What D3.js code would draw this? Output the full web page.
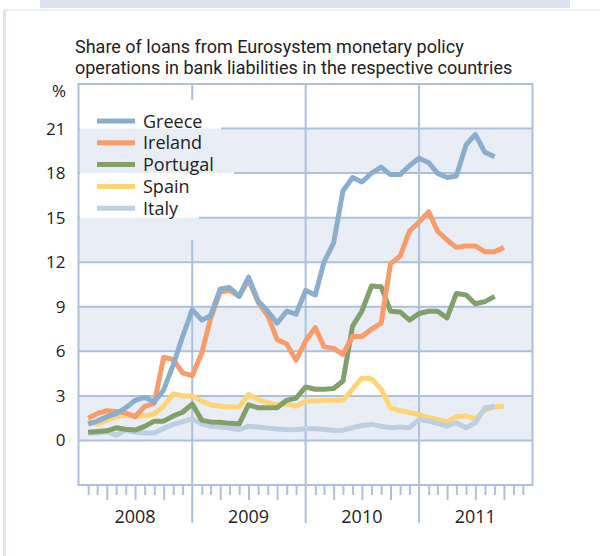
<!DOCTYPE html>
<html><head><meta charset="utf-8">
<script src="https://cdn.jsdelivr.net/npm/d3@7"></script>
<style>body{margin:0;background:#fff}svg{display:block}text{font-family:"Open Sans",sans-serif;fill:#222}</style>
</head><body>
<svg id="c" width="600" height="556"></svg>
<script>
const titleLines = ["Share of loans from Eurosystem monetary policy","operations in bank liabilities in the respective countries"];
const unitLabel = "%";
const yTicks = [0,3,6,9,12,15,18,21];
const years = [2008,2009,2010,2011];
const seriesNames = ["Greece","Ireland","Portugal","Spain","Italy"];
const seriesColors = ["#8aaecd","#f99c6b","#82a06a","#fdd578","#bccfe3"];
// monthly values, first value = January 2008
const greece = [1.1,1.3,1.6,1.8,2.2,2.7,2.9,2.6,3.4,5.1,7.0,8.8,
  8.1,8.4,10.2,10.3,9.7,11.0,9.4,8.7,7.9,8.7,8.5,10.1,
  9.8,12.0,13.3,16.8,17.7,17.4,18.0,18.4,17.9,17.9,18.5,19.0,
  18.7,18.0,17.7,17.8,19.9,20.6,19.4,19.1];
const ireland = [1.5,1.8,2.0,1.95,1.85,1.6,2.3,2.5,5.6,5.45,4.55,4.35,
  5.9,8.2,10.0,10.1,9.7,10.8,9.3,8.4,6.8,6.5,5.4,6.7,
  7.6,6.3,6.2,5.8,7.0,7.0,7.5,7.9,11.9,12.4,14.1,14.7,
  15.4,14.1,13.5,13.0,13.1,13.1,12.7,12.7,13.0];
const portugal = [0.55,0.6,0.65,0.85,0.75,0.7,0.95,1.3,1.3,1.65,1.9,2.45,
  1.35,1.25,1.22,1.15,1.1,2.4,2.2,2.2,2.2,2.7,2.85,3.6,
  3.45,3.45,3.5,4.0,7.7,8.7,10.4,10.35,8.7,8.65,8.1,8.55,
  8.7,8.7,8.25,9.9,9.8,9.2,9.35,9.7];
const spain = [1.3,1.1,1.35,1.6,1.7,1.65,1.65,1.8,2.3,3.15,3.0,3.0,
  2.65,2.4,2.3,2.25,2.25,3.1,2.75,2.55,2.4,2.45,2.3,2.65,
  2.65,2.7,2.7,2.7,3.45,4.2,4.15,3.45,2.2,2.0,1.87,1.72,
  1.55,1.42,1.25,1.6,1.65,1.45,2.05,2.25,2.3];
const italy = [0.5,0.5,0.6,0.35,0.7,0.55,0.5,0.5,0.8,1.08,1.25,1.45,
  1.1,0.95,0.9,0.83,0.72,0.96,0.9,0.83,0.77,0.72,0.72,0.79,
  0.79,0.74,0.67,0.69,0.86,1.01,1.08,0.96,0.86,0.9,0.86,1.4,
  1.3,1.15,0.96,1.19,0.86,1.19,2.2,2.3];
const seriesValues = [greece,ireland,portugal,spain,italy];

const svg = d3.select("#c");
const L=78.5, R=532.5, T=84, B=485;
const x = d3.scaleTime().domain([new Date(2008,0,1),new Date(2012,0,1)]).range([L,R]);
const y = d3.scaleLinear().domain([-3,24]).range([B,T]);
const grid = "#adc0dd", band = "#e9eef6";

// page decoration
svg.append("rect").attr("x",40).attr("y",0).attr("width",530).attr("height",8).attr("fill","#dce3ee");
svg.append("line").attr("x1",4).attr("x2",600).attr("y1",10).attr("y2",10).attr("stroke","#e6ebf3").attr("stroke-width",1.5);
svg.append("line").attr("x1",4.5).attr("x2",4.5).attr("y1",10).attr("y2",556).attr("stroke","#dde4ef").attr("stroke-width",3);

// title (two separate lines)
titleLines.forEach((t,i)=>{
  svg.append("text").attr("x",75).attr("y",52.5+21.3*i).style("font-family","Roboto,sans-serif").style("font-size","18px").text(t);
});
svg.append("text").attr("x",66).attr("y",97).attr("text-anchor","end").style("font-size","17px").text(unitLabel);

// bands
[0,6,12,18].forEach(v=>{
  svg.append("rect").attr("x",L).attr("width",R-L).attr("y",y(v+3)).attr("height",y(v)-y(v+3)).attr("fill",band);
});

// mask for legend area
const defs = svg.append("defs");
const mask = defs.append("mask").attr("id","lm").attr("maskUnits","userSpaceOnUse");
mask.append("rect").attr("x",0).attr("y",0).attr("width",600).attr("height",556).attr("fill","#fff");
[[80,100,221,131],[80,155,234,176],[80,200,199,221],[186,100,198,240]].forEach(r=>{
  mask.append("rect").attr("x",r[0]).attr("y",r[1]).attr("width",r[2]-r[0]).attr("height",r[3]-r[1]).attr("fill","#000");
});
const gg = svg.append("g").attr("mask","url(#lm)");
yTicks.forEach(v=>{
  gg.append("line").attr("x1",L).attr("x2",R).attr("y1",y(v)).attr("y2",y(v)).attr("stroke",grid).attr("stroke-width",2);
});
years.slice(1).forEach(yr=>{
  gg.append("line").attr("x1",x(new Date(yr,0,1))).attr("x2",x(new Date(yr,0,1))).attr("y1",T).attr("y2",523).attr("stroke",grid).attr("stroke-width",2);
});
// frame
svg.append("rect").attr("x",L).attr("y",T).attr("width",R-L).attr("height",B-T).attr("fill","none").attr("stroke",grid).attr("stroke-width",2);

// y axis labels
const yAxis = d3.axisLeft(y).tickValues(yTicks).tickSize(0).tickPadding(13);
const ya = svg.append("g").attr("transform",`translate(${L},0)`).call(yAxis);
ya.select(".domain").remove();
ya.selectAll("text").style("font-size","17px").style("font-family","'Open Sans',sans-serif").attr("fill","#222");

// month ticks
const months = d3.timeMonth.range(new Date(2008,1,1),new Date(2012,0,1)).filter(d=>d.getMonth()!==0);
const xAxis = d3.axisBottom(x).tickValues(months).tickSize(0).tickFormat("");
const xa = svg.append("g").attr("transform",`translate(0,${B})`).call(xAxis);
xa.select(".domain").remove();
xa.selectAll(".tick line").attr("y2",d=>d.getMonth()%3===0?15:10).attr("stroke",grid).attr("stroke-width",2);
// year labels
years.forEach(yr=>{
  svg.append("text").attr("x",x(new Date(yr,6,1))).attr("y",523).attr("text-anchor","middle").style("font-size","18px").text(yr);
});

// lines
const line = d3.line().x((d,i)=>x(new Date(2008,i+1,1))).y(d=>y(d));
const order = [3,4,2,1,0];
order.forEach(k=>{
  svg.append("path").datum(seriesValues[k]).attr("d",line).attr("fill","none")
    .attr("stroke",seriesColors[k]).attr("stroke-width",5).attr("stroke-linejoin","round");
});

// legend
seriesNames.forEach((n,i)=>{
  const cy = 121 + i*21.8;
  svg.append("line").attr("x1",97).attr("x2",135).attr("y1",cy).attr("y2",cy).attr("stroke",seriesColors[i]).attr("stroke-width",5);
  svg.append("text").attr("x",143).attr("y",cy+6.5).style("font-size","18px").text(n);
});
</script>
</body></html>
